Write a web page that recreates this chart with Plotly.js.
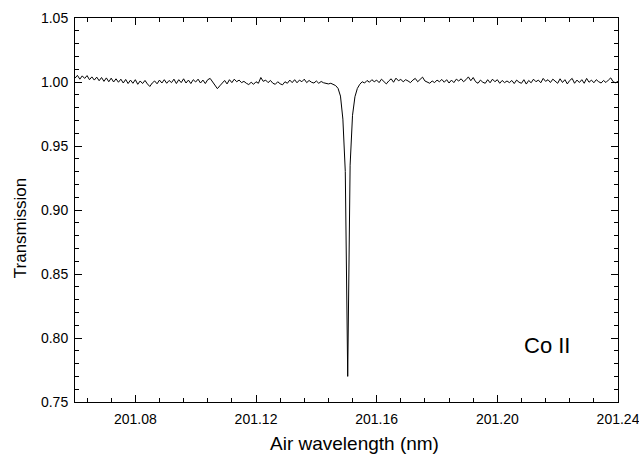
<!DOCTYPE html>
<html>
<head>
<meta charset="utf-8">
<script src="https://cdn.plot.ly/plotly-3.0.1.min.js"></script>
<style>html,body{margin:0;padding:0;background:#fff;}#chart{width:639px;height:455px;}</style>
</head>
<body>
<div id="chart"></div>
<script>
// Spectrum sampled on a uniform wavelength grid (nm)
const wavelengthStart = 201.06;
const wavelengthStep = 0.0008;
const transmission = [
  1.0030, 1.0052, 1.0022, 1.0048, 1.0028, 1.0050, 1.0018, 1.0040, 1.0015, 1.0038,
  1.0010, 1.0035, 1.0005, 1.0032, 1.0002, 1.0030, 1.0000, 1.0025, 0.9998, 1.0022,
  0.9992, 1.0020, 0.9988, 1.0015, 0.9990, 1.0018, 0.9982, 1.0008, 0.9988, 1.0012,
  0.9985, 0.9965, 0.9992, 1.0008, 0.9986, 1.0015, 0.9992, 1.0018, 0.9990, 1.0012,
  0.9995, 1.0022, 0.9988, 1.0018, 0.9995, 1.0025, 0.9992, 1.0015, 0.9988, 1.0018,
  1.0000, 1.0022, 0.9992, 1.0015, 0.9988, 1.0018, 1.0028, 1.0002, 0.9975, 0.9948,
  0.9970, 0.9992, 1.0012, 0.9985, 1.0018, 0.9995, 1.0022, 1.0002, 1.0015, 0.9995,
  1.0005, 0.9990, 0.9980, 0.9998, 0.9982, 1.0002, 0.9990, 1.0035, 1.0005, 1.0015,
  0.9995, 1.0012, 0.9990, 0.9982, 1.0002, 0.9986, 0.9978, 1.0002, 0.9990, 1.0015,
  0.9995, 1.0018, 0.9994, 1.0015, 1.0002, 1.0022, 0.9995, 1.0012, 0.9998, 0.9992,
  1.0008, 0.9990, 1.0004, 0.9994, 0.9992, 0.9985, 0.9990, 0.9980, 0.9972, 0.9950,
  0.9890, 0.9710, 0.9300, 0.7700, 0.9350, 0.9740, 0.9885, 0.9950, 0.9982, 1.0002,
  0.9992, 1.0012, 0.9998, 1.0018, 1.0002, 1.0015, 0.9995, 1.0022, 1.0000, 0.9985,
  1.0008, 1.0025, 0.9998, 1.0030, 1.0010, 1.0020, 1.0002, 1.0018, 1.0008, 0.9995,
  1.0015, 1.0028, 1.0002, 1.0020, 1.0038, 1.0008, 1.0000, 0.9990, 1.0008, 0.9995,
  1.0015, 1.0002, 1.0020, 0.9998, 1.0018, 0.9992, 1.0015, 0.9995, 1.0022, 1.0008,
  1.0025, 1.0002, 1.0018, 1.0040, 1.0010, 1.0035, 1.0002, 0.9990, 1.0015, 0.9998,
  0.9990, 1.0018, 0.9994, 1.0022, 1.0002, 1.0018, 0.9990, 1.0012, 0.9995, 1.0008,
  0.9995, 1.0012, 0.9988, 1.0015, 0.9998, 0.9990, 1.0018, 0.9984, 1.0012, 0.9994,
  1.0022, 1.0002, 1.0015, 0.9994, 1.0028, 1.0005, 1.0018, 0.9996, 1.0022, 1.0002,
  0.9990, 1.0025, 0.9996, 1.0018, 0.9985, 1.0012, 1.0028, 0.9990, 1.0015, 0.9996,
  1.0018, 0.9990, 1.0028, 0.9998, 1.0015, 0.9994, 1.0018, 1.0002, 0.9992, 1.0012,
  0.9996, 1.0015, 1.0032, 1.0002, 0.9994, 1.0005
];

const xTickVals = [201.08, 201.12, 201.16, 201.20, 201.24];
const xTickText = ["201.08", "201.12", "201.16", "201.20", "201.24"];
const xTitle = "Air wavelength (nm)";
const yTitle = "Transmission";
const labelText = "Co II";
const labelPos = [201.2165, 0.7938];
const xRange = [201.06, 201.24];
const yRange = [0.75, 1.05];

const font = "Liberation Sans, Arial, Helvetica, sans-serif";

const trace = {
  type: "scatter",
  mode: "lines",
  x0: wavelengthStart,
  dx: wavelengthStep,
  y: transmission,
  line: {color: "#000", width: 1},
  hoverinfo: "skip"
};

const axisCommon = {
  showline: true, linecolor: "#000", linewidth: 1, mirror: "ticks",
  ticks: "inside", ticklen: 7, tickwidth: 1, tickcolor: "#000",
  showgrid: false, zeroline: false,
  tickfont: {family: font, size: 14, color: "#000"}
};

const layout = {
  width: 639, height: 455,
  margin: {l: 75, r: 21, t: 18, b: 53},
  paper_bgcolor: "#fff", plot_bgcolor: "#fff",
  showlegend: false,
  font: {family: font, color: "#000"},
  xaxis: Object.assign({}, axisCommon, {
    range: xRange, tickmode: "array", tickvals: xTickVals, ticktext: xTickText,
    ticklabelstandoff: 4, ticklabeloverflow: "allow",
    minor: {ticks: "inside", tick0: 201.08, dtick: 0.008, ticklen: 4, tickcolor: "#000", showgrid: false}
  }),
  yaxis: Object.assign({}, axisCommon, {
    range: yRange, tick0: 0.75, dtick: 0.05, tickformat: ".2f", ticklabelstandoff: 3,
    minor: {ticks: "inside", tick0: 0.75, dtick: 0.01, ticklen: 4, tickcolor: "#000", showgrid: false}
  }),
  annotations: [
    {
      x: labelPos[0], y: labelPos[1], xref: "x", yref: "y",
      text: labelText, showarrow: false,
      font: {family: font, size: 22, color: "#000"}
    },
    {
      x: 201.1527, y: -0.108, xref: "x", yref: "paper",
      xanchor: "center", yanchor: "middle",
      text: xTitle, showarrow: false,
      font: {family: font, size: 19, color: "#000"}
    },
    {
      x: -0.101, y: 0.453, xref: "paper", yref: "paper",
      xanchor: "center", yanchor: "middle", textangle: -90,
      text: yTitle, showarrow: false,
      font: {family: font, size: 17, color: "#000"}
    }
  ]
};

Plotly.newPlot("chart", [trace], layout, {displayModeBar: false, staticPlot: true});
</script>
</body>
</html>
